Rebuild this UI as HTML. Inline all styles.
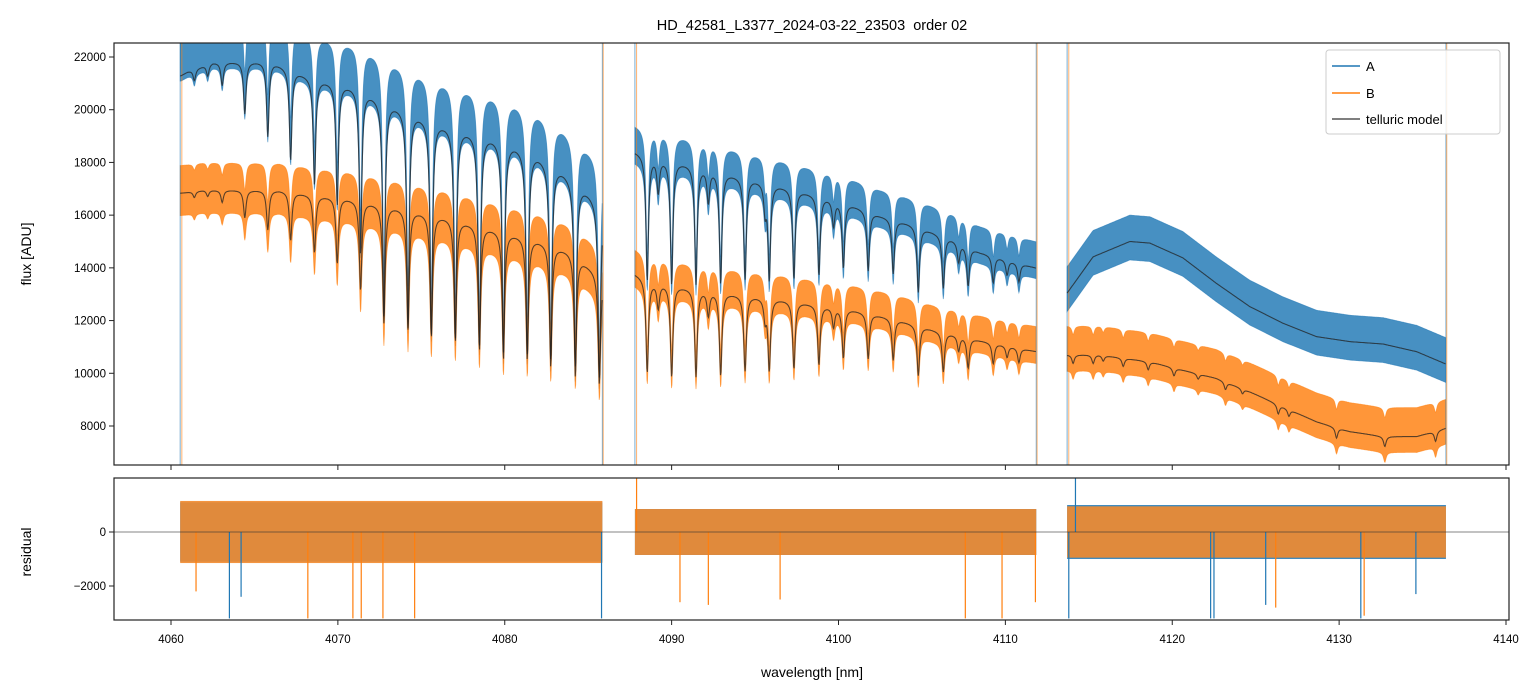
<!DOCTYPE html>
<html><head><meta charset="utf-8">
<style>
html,body{margin:0;padding:0;background:#fff;}
svg{display:block;font-family:"Liberation Sans","DejaVu Sans",sans-serif;}
</style></head>
<body>
<svg id="chart" width="1540" height="696" viewBox="0 0 1540 696" xmlns="http://www.w3.org/2000/svg">
<defs>
<clipPath id="clipTop"><rect x="114" y="43" width="1395" height="422"/></clipPath>
<clipPath id="clipBot"><rect x="114" y="478" width="1395" height="142"/></clipPath>
</defs>
<text x="812" y="30" text-anchor="middle" font-size="14.5" fill="#000" style="white-space:pre">HD_42581_L3377_2024-03-22_23503  order 02</text>
<g id="topData" clip-path="url(#clipTop)"></g>
<g id="botData" clip-path="url(#clipBot)"></g>
<rect x="114" y="43" width="1395" height="422" fill="none" stroke="#222" stroke-width="1.2"/>
<rect x="114" y="478" width="1395" height="142" fill="none" stroke="#222" stroke-width="1.2"/>
<g id="axes"></g>
<text transform="translate(31,254) rotate(-90)" text-anchor="middle" font-size="14" fill="#000">flux [ADU]</text>
<text transform="translate(31,552) rotate(-90)" text-anchor="middle" font-size="14" fill="#000">residual</text>
<text x="812" y="677" text-anchor="middle" font-size="14" fill="#000">wavelength [nm]</text>
<g>
<rect x="1326" y="50" width="174" height="84" rx="3" fill="#fff" fill-opacity="0.85" stroke="#ccc"/>
<line x1="1332" y1="66" x2="1360" y2="66" stroke="#1f77b4" stroke-width="1.5"/>
<text x="1366" y="71" font-size="13">A</text>
<line x1="1332" y1="93" x2="1360" y2="93" stroke="#ff7f0e" stroke-width="1.5"/>
<text x="1366" y="98" font-size="13">B</text>
<line x1="1332" y1="119" x2="1360" y2="119" stroke="#555" stroke-width="1.5"/>
<text x="1366" y="124" font-size="13">telluric model</text>
</g>
</svg>
<script>
// ---- data ----
const xTicks = [4060,4070,4080,4090,4100,4110,4120,4130,4140];
const yTicksFlux = [8000,10000,12000,14000,16000,18000,20000,22000];
const yTicksRes = [-2000,0];
const segStart = [4060.55, 4087.8, 4113.7];
const segEnd = [4085.85, 4111.85, 4136.4];
const contA_nm = [[4060.6,4061,4062.5,4066,4068.6,4071,4073.5,4075,4076.3,4077.7,4079.2,4080.6,4082,4083.5,4085,4085.85],
                  [4087.8,4088.9,4091.5,4094.0,4095.4,4096.7,4099.2,4100.8,4102.5,4104.7,4106.8,4108.5,4111.85],
                  [4113.62,4115.26,4117.46,4118.66,4120.63,4122.65,4124.65,4126.63,4128.65,4130.66,4132.64,4134.64,4136.4]];
const contA_v  = [[21300,21450,21800,21850,21200,20900,20200,19800,19500,19250,19000,18700,18300,17700,16900,16400],
                  [18450,18250,17900,17500,17300,17100,16700,16400,16000,15600,15100,14600,14000],
                  [12970,14420,15000,14940,14380,13410,12530,11900,11390,11200,11110,10820,10350]];
const contB_nm = [[4060.6,4062,4066.5,4068.6,4070.5,4073.5,4076.5,4079.2,4082,4084,4085.85],
                  [4087.8,4088.9,4091.5,4094.0,4096.7,4098.3,4100.8,4103.3,4105.8,4108.5,4111.85],
                  [4113.8,4115.66,4118.66,4120.65,4122.65,4124.65,4126.64,4128.65,4130.64,4132.64,4134.64,4136.4]];
const contB_v  = [[16840,16950,16950,16760,16650,16320,15940,15510,15060,14610,13650],
                  [13800,13500,13200,13000,12800,12650,12420,12080,11640,11250,10830],
                  [10700,10700,10440,10120,9810,9300,8730,8160,7790,7600,7600,7920]];
const lineNm = [4061.4,4062.2,4063.07,4064.42,4065.8,4067.17,4068.6,4069.96,4071.36,4072.76,4074.2,4075.6,4077.04,4078.48,4079.92,4081.35,4082.76,4084.23,4085.67,
  4088.54,4089.2,4090.0,4091.46,4092.2,4092.94,4094.4,4095.6,4095.85,4097.33,4098.83,4099.7,4100.29,4101.78,4103.28,4104.78,4106.28,4107.2,4107.77,4109.27,4110.1,4110.81,
  4114.06,4115.26,4115.86,4117.06,4118.56,4120.1,4121.55,4123.19,4124.21,4126.35,4126.99,4129.84,4132.74,4135.78];
const lineDepth = [0.02,0.02,0.04,0.09,0.13,0.16,0.19,0.22,0.3,0.4,0.41,0.42,0.42,0.43,0.44,0.43,0.43,0.43,0.42,
  0.26,0.07,0.26,0.25,0.07,0.24,0.22,0.06,0.21,0.2,0.18,0.06,0.15,0.14,0.13,0.16,0.13,0.05,0.1,0.07,0.04,0.05,
  0.03,0.03,0.02,0.03,0.03,0.03,0.02,0.03,0.02,0.04,0.03,0.05,0.05,0.05];
const depthScaleA = [1,1,0];
const depthScaleB = [0.68,1,1];
const dataOffA = [700,300,150];
const dataHalfA = [900,700,850];
const dataOffB = [100,250,250];
const dataHalfB = [950,700,850];
const resHalfA = [1100,850,1000];
const resHalfB = [1150,850,950];
const spikeA_nm = [4063.5,4064.2,4085.8,4113.8,4114.2,4122.3,4122.5,4125.6,4131.3,4134.6];
const spikeA_v = [-3200,-2400,-3200,-3200,2000,-3200,-3200,-2700,-3200,-2300];
const spikeB_nm = [4061.5,4068.2,4070.9,4071.4,4072.7,4074.6,4087.9,4090.5,4092.2,4096.5,4107.6,4109.8,4111.8,4126.2,4131.5];
const spikeB_v = [-2200,-3200,-3200,-3200,-3200,-3200,2000,-2600,-2700,-2500,-3200,-3200,-2600,-2800,-3100];

const X = nm => 171 + (nm - 4060) * 16.6875;
const Y = v => 57 + (22000 - v) * 0.026357;
const R = v => 532 - v * 0.027;
const NS = 'http://www.w3.org/2000/svg';
function mk(tag, attrs, parent){const e=document.createElementNS(NS,tag);for(const k in attrs)e.setAttribute(k,attrs[k]);parent.appendChild(e);return e;}
function interp(xs, vs, x){
  if(x<=xs[0])return vs[0];
  for(let i=1;i<xs.length;i++){if(x<=xs[i]){const t=(x-xs[i-1])/(xs[i]-xs[i-1]);return vs[i-1]+t*(vs[i]-vs[i-1]);}}
  return vs[vs.length-1];
}
function absorb(nm, scale){
  let s=0;const g=0.09;
  for(let i=0;i<lineNm.length;i++){const d=nm-lineNm[i];s+=lineDepth[i]*scale*g*g/(d*d+g*g);}
  return Math.max(0.05,1-s);
}
const topG = document.getElementById('topData');
const botG = document.getElementById('botData');
const axesG = document.getElementById('axes');

function seriesPts(seg, cnm, cv, scale){
  const pts=[];
  for(let nm=segStart[seg]; nm<=segEnd[seg]+1e-9; nm+=0.03){
    pts.push([nm, interp(cnm[seg],cv[seg],nm)*absorb(nm,scale[seg])]);
  }
  return pts;
}
function band(pts, off, half, color, name, parent){
  let d='';
  pts.forEach((p,i)=>{d+=(i?'L':'M')+X(p[0]).toFixed(1)+','+Y(p[1]+off+half).toFixed(1);});
  for(let i=pts.length-1;i>=0;i--){const p=pts[i];d+='L'+X(p[0]).toFixed(1)+','+Y(p[1]+off-half).toFixed(1);}
  d+='Z';
  const e=mk('path',{d:d,fill:color,'fill-opacity':'0.82',stroke:color,'stroke-width':'0.8','stroke-opacity':'0.6'},parent);
  
  
}
function line(pts, name, parent){
  let d='';
  pts.forEach((p,i)=>{d+=(i?'L':'M')+X(p[0]).toFixed(1)+','+Y(p[1]).toFixed(1);});
  const e=mk('path',{d:d,fill:'none',stroke:'#222','stroke-opacity':'0.75','stroke-width':'1.1'},parent);
  
  
}
for(let s=0;s<3;s++){
  const pa=seriesPts(s,contA_nm,contA_v,depthScaleA);
  const pb=seriesPts(s,contB_nm,contB_v,depthScaleB);
  band(pa,dataOffA[s],dataHalfA[s],'#1f77b4','flux-a-seg'+(s+1),topG);
  band(pb,dataOffB[s],dataHalfB[s],'#ff7f0e','flux-b-seg'+(s+1),topG);
  [[segStart[s],'#1f77b4'],[segStart[s]+0.1,'#ff7f0e'],[segEnd[s],'#1f77b4'],[segEnd[s]+0.05,'#ff7f0e']].forEach(q=>{
    const e=mk('line',{x1:X(q[0]),x2:X(q[0]),y1:Y(22600),y2:Y(6400),stroke:q[1],'stroke-width':'1','stroke-opacity':'0.6'},topG);
    
    
  });
  line(pa,'model-a-seg'+(s+1),topG);
  line(pb,'model-b-seg'+(s+1),topG);
  const x1=X(segStart[s]), x2=X(segEnd[s]);
  const ra=mk('rect',{x:x1,y:R(resHalfA[s]),width:x2-x1,height:R(-resHalfA[s])-R(resHalfA[s]),fill:'#1f77b4','fill-opacity':'0.85'},botG);
  
  
  const rb=mk('rect',{x:x1,y:R(resHalfB[s]),width:x2-x1,height:R(-resHalfB[s])-R(resHalfB[s]),fill:'#f28a2e','fill-opacity':'0.9'},botG);
  
  
}
spikeA_nm.forEach((nm,i)=>{
  const e=mk('line',{x1:X(nm),x2:X(nm),y1:R(0),y2:R(spikeA_v[i]),stroke:'#1f77b4','stroke-width':'1.2'},botG);
  
  
});
spikeB_nm.forEach((nm,i)=>{
  const e=mk('line',{x1:X(nm),x2:X(nm),y1:R(0),y2:R(spikeB_v[i]),stroke:'#ff7f0e','stroke-width':'1.2'},botG);
  
  
});
const zl=mk('line',{x1:114,x2:1509,y1:R(0),y2:R(0),stroke:'#333','stroke-width':'0.8','stroke-opacity':'0.8'},botG);



xTicks.forEach(t=>{
  const x=X(t);
  const a=mk('line',{x1:x,x2:x,y1:465,y2:470,stroke:'#222','stroke-width':'1'},axesG);
  
  
  const b=mk('line',{x1:x,x2:x,y1:620,y2:625,stroke:'#222','stroke-width':'1'},axesG);
  
  
  const tx=mk('text',{x:x,y:643,'text-anchor':'middle','font-size':'11.5',fill:'#000'},axesG);
  tx.textContent=t;
  
  
});
yTicksFlux.forEach(t=>{
  const y=Y(t);
  const a=mk('line',{x1:109,x2:114,y1:y,y2:y,stroke:'#222','stroke-width':'1'},axesG);
  
  
  const tx=mk('text',{x:106,y:y+4,'text-anchor':'end','font-size':'11.5',fill:'#000'},axesG);
  tx.textContent=t;
  
  
});
yTicksRes.forEach(t=>{
  const y=R(t);
  const a=mk('line',{x1:109,x2:114,y1:y,y2:y,stroke:'#222','stroke-width':'1'},axesG);
  
  
  const tx=mk('text',{x:106,y:y+4,'text-anchor':'end','font-size':'11.5',fill:'#000'},axesG);
  tx.textContent=t<0?'\u2212'+Math.abs(t):String(t);
  
  
});
</script>
</body></html>
